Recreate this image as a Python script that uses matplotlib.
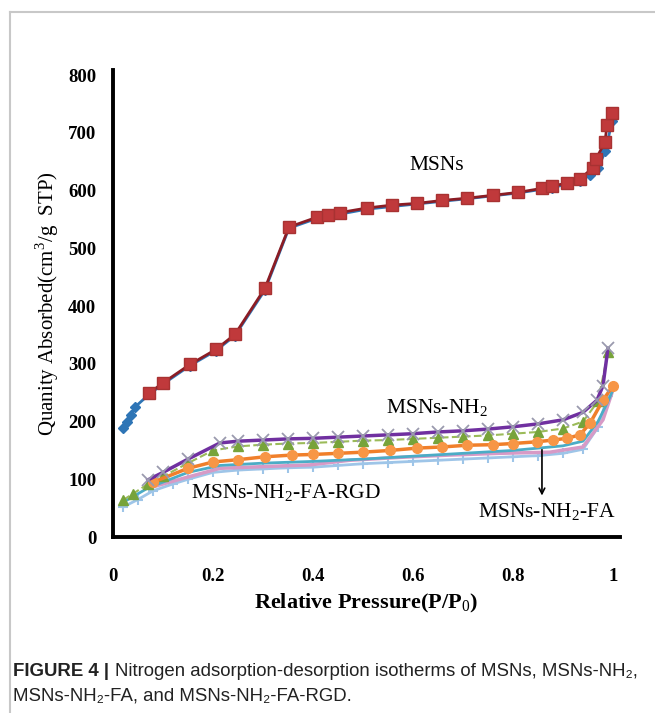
import matplotlib
matplotlib.use('Agg')
import matplotlib.pyplot as plt
from matplotlib.lines import Line2D

plt.rcParams['mathtext.fontset'] = 'custom'
plt.rcParams['mathtext.rm'] = 'Liberation Serif'
plt.rcParams['mathtext.bf'] = 'Liberation Serif:bold'

# MSNs adsorption (red squares) and desorption (blue)
msn_x = [0.072, 0.10, 0.154, 0.206, 0.244, 0.304, 0.352, 0.408, 0.43, 0.454, 0.508, 0.558,
         0.608, 0.658, 0.708, 0.76, 0.81, 0.858, 0.878, 0.908, 0.934, 0.96, 0.966, 0.984,
         0.988, 0.998]
msn_y = [249, 267, 299, 325, 351, 431, 537, 554, 557, 562, 570, 575,
         578, 583, 587, 592, 597, 604, 608, 613, 620, 640, 655, 684,
         713, 735]
msn_des_x = [0.02, 0.028, 0.036, 0.045, 0.072, 0.10, 0.154, 0.206, 0.244, 0.304, 0.352,
             0.408, 0.508, 0.608, 0.708, 0.81, 0.878, 0.934, 0.955, 0.97, 0.985, 0.998]
msn_des_y = [189, 200, 212, 226, 247, 265, 297, 323, 349, 428, 535,
             552, 568, 577, 586, 596, 605, 617, 628, 640, 668, 720]

# MSNs-NH2 (purple line, grey x markers) and green triangles
nh2_x = [0.07, 0.10, 0.15, 0.214, 0.25, 0.30, 0.35, 0.40, 0.45, 0.50, 0.55, 0.60, 0.65,
         0.70, 0.75, 0.80, 0.85, 0.90, 0.94, 0.968, 0.98, 0.99]
nh2_y = [99, 112, 135, 163, 166, 168, 170, 171, 173, 175, 177, 179, 182,
         184, 187, 191, 196, 203, 216, 237, 262, 327]
nh2_des_x = [0.02, 0.04, 0.07, 0.10, 0.15, 0.20, 0.25, 0.30, 0.35, 0.40, 0.45, 0.50, 0.55,
             0.60, 0.65, 0.70, 0.75, 0.80, 0.85, 0.90, 0.94, 0.97, 0.99]
nh2_des_y = [64, 75, 92, 105, 128, 150, 157, 160, 162, 163, 165, 167, 168,
             170, 172, 174, 176, 179, 182, 188, 200, 235, 320]

# MSNs-NH2-FA (orange circles) and teal desorption
fa_x = [0.08, 0.15, 0.20, 0.25, 0.304, 0.358, 0.40, 0.45, 0.50, 0.554, 0.608, 0.658,
        0.708, 0.76, 0.80, 0.848, 0.88, 0.908, 0.934, 0.954, 0.98, 1.0]
fa_y = [95, 119, 130, 134, 139, 142, 143, 145, 147, 150, 154, 156,
        159, 160, 162, 165, 168, 171, 177, 197, 237, 262]
fa_des_x = [0.02, 0.07, 0.15, 0.214, 0.30, 0.40, 0.50, 0.60, 0.70, 0.80, 0.90, 0.94,
            0.97, 0.99, 1.0]
fa_des_y = [60, 85, 112, 124, 128, 131, 135, 140, 145, 150, 158, 166,
            200, 235, 255]

# MSNs-NH2-FA-RGD (pink) and light blue + markers
rgd_x = [0.08, 0.15, 0.214, 0.30, 0.394, 0.474, 0.574, 0.674, 0.774, 0.874, 0.94, 0.98, 1.0]
rgd_y = [87, 104, 119, 122, 125, 133, 138, 142, 145, 147, 156, 203, 255]
rgd_des_x = [0.02, 0.05, 0.08, 0.12, 0.15, 0.20, 0.25, 0.30, 0.35, 0.40, 0.45, 0.50, 0.55,
             0.60, 0.65, 0.70, 0.75, 0.80, 0.85, 0.90, 0.94, 0.97, 0.99]
rgd_des_y = [52, 65, 80, 92, 100, 112, 116, 118, 120, 121, 124, 127, 129,
             131, 133, 135, 137, 139, 141, 145, 152, 190, 245]

fig = plt.figure(figsize=(6.55, 7.13), dpi=100)
ax = fig.add_axes([0.1725, 0.2468, 0.774, 0.655])

ax.plot(msn_des_x, msn_des_y, color='#2e75b6', lw=2, marker='D', ms=5, zorder=3)
ax.plot(msn_x, msn_y, color='#8b1c24', lw=2, marker='s', ms=8,
        mfc='#c0393b', mec='#a83232', zorder=4)

ax.plot(rgd_des_x, rgd_des_y, color='#9ec5e8', lw=2, marker='+', ms=7, mew=1.5, zorder=3)
ax.plot(rgd_x, rgd_y, color='#d79ac6', lw=2.5, zorder=3)
ax.plot(fa_des_x, fa_des_y, color='#4bacc6', lw=2, zorder=3)
ax.plot(fa_x, fa_y, color='#f07f2a', lw=2.5, marker='o', ms=7, mfc='#f79646', mec='#f79646', zorder=4)
ax.plot(nh2_des_x, nh2_des_y, color='#9bbb59', lw=1.5, ls='--', marker='^', ms=7,
        mfc='#77a33a', mec='#77a33a', zorder=3)
ax.plot(nh2_x, nh2_y, color='#7030a0', lw=2.5, marker='x', ms=8, mew=1.3,
        mec='#9a9aae', zorder=4)

ax.set_xlim(0, 1.014)
ax.set_ylim(0, 809)
ax.set_xticks([0, 0.2, 0.4, 0.6, 0.8, 1])
ax.set_xticklabels(['0', '0.2', '0.4', '0.6', '0.8', '1'])
ax.set_yticks(range(0, 801, 100))
ax.tick_params(length=0)
ax.tick_params(axis='x', pad=22)
ax.tick_params(axis='y', pad=12)
for lab in ax.get_xticklabels() + ax.get_yticklabels():
    lab.set_fontfamily('Liberation Serif')
    lab.set_fontweight('bold')
    lab.set_fontsize(13.5)

for s in ['top', 'right']:
    ax.spines[s].set_visible(False)
for s in ['left', 'bottom']:
    ax.spines[s].set_linewidth(2.8)
    ax.spines[s].set_color('black')

ax.set_xlabel('Relative Pressure(P/P$_0$)', fontfamily='Liberation Serif',
              fontweight='bold', fontsize=16, labelpad=5)
ax.set_ylabel('Quanity Absorbed(cm$^3$/g  STP)', fontfamily='Liberation Serif',
              fontsize=15, labelpad=5)

tkw = dict(fontfamily='Liberation Serif', fontsize=15.5, ha='center', va='center')
ax.text(0.648, 644, 'MSNs', **tkw)
ax.text(0.648, 223, 'MSNs-NH$_2$', **tkw)
ax.text(0.345, 76, 'MSNs-NH$_2$-FA-RGD', **tkw)
ax.text(0.868, 43, 'MSNs-NH$_2$-FA', **tkw)
ax.annotate('', xy=(0.858, 67), xytext=(0.858, 156),
            arrowprops=dict(arrowstyle='->', color='black', lw=1.2))

# light grey frame around the figure panel
fig.add_artist(Line2D([10 / 655, 10 / 655], [0, 1 - 12 / 713], color='#c8c8c8', lw=1.5))
fig.add_artist(Line2D([10 / 655, 1], [1 - 12 / 713, 1 - 12 / 713], color='#c8c8c8', lw=1.5))

# caption
cap_font = ['Liberation Sans', 'DejaVu Sans']
cap_size = 13.4
y1 = 1 - 672 / 713
t1 = fig.text(13 / 655, y1, 'FIGURE 4 |', fontfamily=cap_font, fontweight='bold',
              fontsize=cap_size, color='#222222', va='center')
fig.canvas.draw()
bb = t1.get_window_extent()
x2 = (bb.x1 + 6) / fig.bbox.width
fig.text(x2, y1,
         'Nitrogen adsorption-desorption isotherms of MSNs, MSNs-NH\u2082,',
         fontfamily=cap_font, fontsize=cap_size, color='#222222', va='center')
fig.text(13 / 655, 1 - 696 / 713, 'MSNs-NH\u2082-FA, and MSNs-NH\u2082-FA-RGD.',
         fontfamily=cap_font, fontsize=cap_size, color='#222222', va='center')

fig.savefig('out.png', dpi=100)
